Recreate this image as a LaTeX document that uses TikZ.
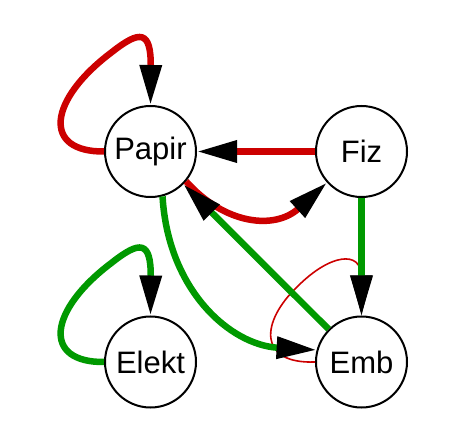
\documentclass[tikz,border=0pt]{standalone}
\usepackage{fontspec}
\setmainfont{Liberation Sans}
\usetikzlibrary{arrows.meta}
\definecolor{ered}{RGB}{204,0,0}
\definecolor{egreen}{RGB}{0,153,0}
\tikzset{
  state/.style={circle, draw=black, line width=2pt, fill=white, minimum size=91pt, inner sep=0pt, font=\fontsize{31}{36}\selectfont},
  tip/.style={-{Triangle[length=40pt,width=21pt,color=black]}},
  redthick/.style={tip, draw=ered, line width=6.5pt},
  greenthick/.style={tip, draw=egreen, line width=6.5pt},
  redthin/.style={tip, draw=ered, line width=1.6pt},
}
\begin{document}
\begin{tikzpicture}[x=1pt,y=-1pt]
\useasboundingbox (0,0) rectangle (466,446);
\node[state] (P) at (150.5,151.5) {Papir};
\node[state] (F) at (361.5,151.5) {Fiz};
\node[state] (El) at (150.5,362) {Elekt};
\node[state] (Em) at (361.5,362) {Emb};
% red edges
\draw[redthick] (P.west) .. controls (42,152) and (48,100) .. (112,52) .. controls (140,30) and (151,30) .. (P.north);
\draw[redthick] (F) -- (P);
\draw[redthick] (P.-40) .. controls (225,225) and (275,230) .. (F.-138);
\draw[redthin] (Em.west) .. controls (258,364) and (260,322) .. (298,286) .. controls (330,254) and (361,250) .. (Em.north);
% green edges
\draw[greenthick] (El.west) .. controls (42,362.5) and (48,310.5) .. (112,262.5) .. controls (140,240.5) and (151,240.5) .. (El.north);
\draw[greenthick] (Em) -- (P);
\draw[greenthick] (P.-75) .. controls (168,290) and (230,345) .. (Em.165);
\draw[greenthick] (F) -- (Em);
\end{tikzpicture}
\end{document}
